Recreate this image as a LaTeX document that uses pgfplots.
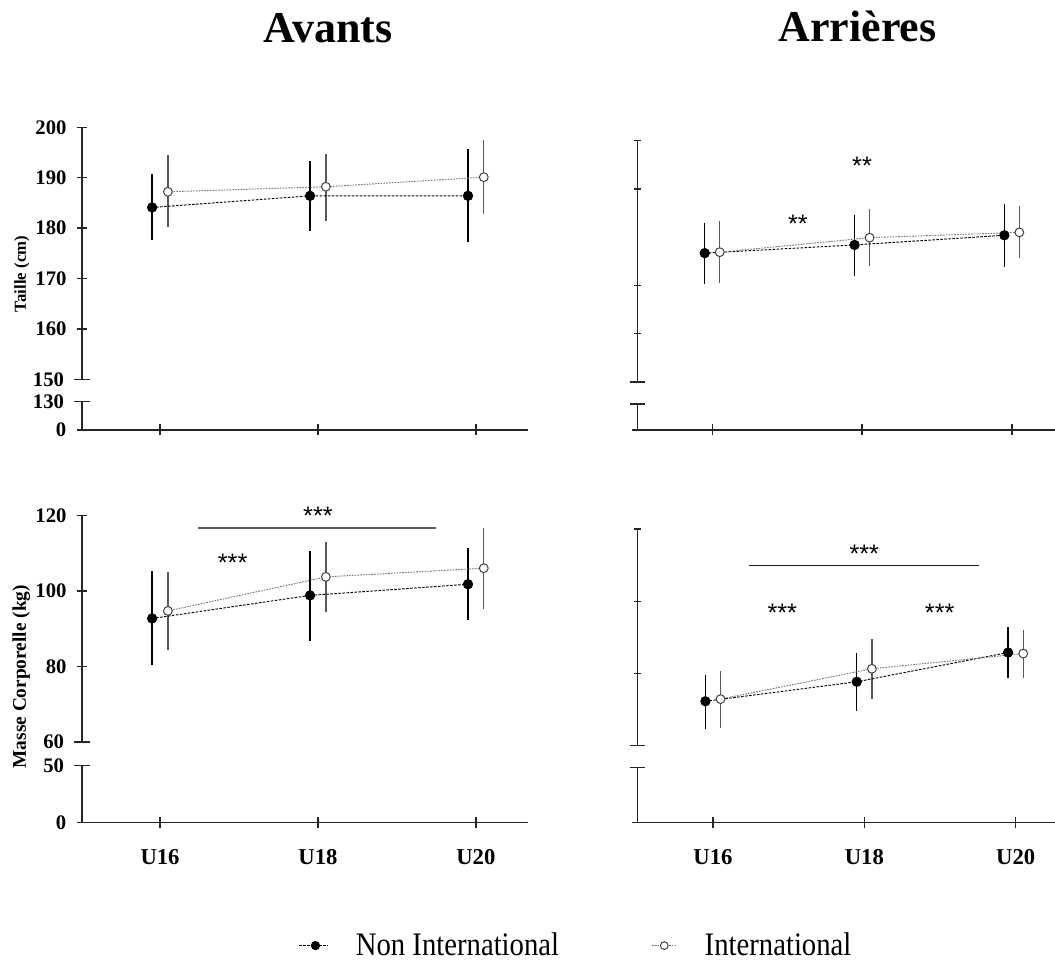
\documentclass[border=0pt]{standalone}
\usepackage{fontspec}
\setmainfont{Liberation Serif}
\newfontfamily\starfont{Liberation Sans}
\usepackage{graphicx}
\usepackage{pgfplots}
\usepackage{pgfplotstable}
\pgfplotsset{compat=1.18}

\pgfplotstableread{
x y ep em
-0.05 184.1 6.6 6.5
0.95 186.4 6.9 6.9
1.95 186.4 9.3 9.2
}\TLn
\pgfplotstableread{
x y ep em
0.05 187.2 7.3 7.0
1.05 188.2 6.6 6.7
2.05 190.1 7.4 7.4
}\TLi
\pgfplotstableread{
x y ep em
-0.05 176.7 6.2 6.4
0.95 178.4 6.3 6.4
1.95 180.4 6.5 6.5
}\TRn
\pgfplotstableread{
x y ep em
0.05 176.9 6.4 6.4
1.05 179.9 6.0 5.9
2.05 181.0 5.4 5.4
}\TRi
\pgfplotstableread{
x y ep em
-0.05 92.7 12.5 12.4
0.95 98.8 11.8 12.0
1.95 101.75 9.65 9.55
}\BLn
\pgfplotstableread{
x y ep em
0.05 94.7 10.2 10.3
1.05 103.7 9.2 9.4
2.05 106.0 10.6 10.7
}\BLi
\pgfplotstableread{
x y ep em
-0.05 72.3 7.4 7.7
0.95 77.7 8.1 8.0
1.95 85.8 7.1 7.0
}\BRn
\pgfplotstableread{
x y ep em
0.05 72.9 7.9 7.9
1.05 81.3 8.3 8.4
2.05 85.5 6.6 6.7
}\BRi

\pgfplotsset{
  noarrows/.style={axis line style={-, line width=1pt, draw=black!85}, inner axis line style={-}, outer axis line style={-},
    x axis line style={-}, y axis line style={-}},
  base/.style={scale only axis, clip=false, anchor=south west,
    tick style={line width=1pt, draw=black!85},
    tick align=outside,
    /pgf/number format/assume math mode=true,
    yticklabel style={font=\fontsize{15.5}{15.5}\selectfont\bfseries, inner sep=0pt, xshift=-7.5pt},
    xticklabel style={font=\fontsize{17}{17}\selectfont\bfseries, inner sep=0pt, yshift=-16pt},
    extra y tick style={tick align=center, major tick length=11.6pt},
  },
  upper/.style={base, axis x line=none, axis y line=left, noarrows},
  lower/.style={base, axis x line=bottom, axis y line=left, noarrows, xtick={0,1,2}, ymin=0, major tick length=8.25pt},
  errN/.style={draw=none, mark=none, forget plot, error bars/.cd, y dir=both, y explicit, error mark=none, error bar style={draw=black, solid, line width=1pt}},
  errI/.style={draw=none, mark=none, forget plot, error bars/.cd, y dir=both, y explicit, error mark=none, error bar style={draw=black!65, solid, line width=1pt}},
  lineN/.style={black, line width=0.7pt, dash pattern=on 1.9pt off 1.1pt, mark=*, mark size=3.5pt, mark options={solid, fill=black, draw=black}},
  lineI/.style={black!55, line width=0.7pt, dash pattern=on 1.2pt off 0.9pt, mark=*, mark size=3.3pt, mark options={solid, fill=white, draw=black!75, line width=0.75pt}},
  legN/.style={legend image code/.code={\draw[mark repeat=2,mark phase=2,##1, mark size=3.1pt] plot coordinates {(0pt,0pt) (12pt,0pt) (21.75pt,0pt)};}},
  legI/.style={legend image code/.code={\draw[mark repeat=2,mark phase=2,##1, mark size=2.9pt] plot coordinates {(0pt,0pt) (9pt,0pt) (18.75pt,0pt)};}},
}
\newcommand{\stars}[1]{\starfont\fontsize{19}{19}\selectfont #1}

\begin{document}
\begin{tikzpicture}
\useasboundingbox (0,0) rectangle (791.25pt,722.25pt);

% ---------- Top left (Avants, Taille)
\begin{axis}[upper, at={(61.5pt,437.775pt)}, width=334.5pt, height=189pt,
  xmin=-0.494, xmax=2.33, ymin=150, ymax=200, ytick={160,170,180,190,200}, extra y ticks={150}, major tick length=7.9pt]
\addplot[errN] table[x=x,y=y,y error plus=ep,y error minus=em]{\TLn};
\addplot[errI] table[x=x,y=y,y error plus=ep,y error minus=em]{\TLi};
\addplot[lineN] table[x=x,y=y]{\TLn};
\addplot[lineI] table[x=x,y=y]{\TLi};
\end{axis}
\begin{axis}[lower, at={(61.5pt,399.75pt)}, width=334.5pt, height=21.225pt,
  xmin=-0.494, xmax=2.33, ymax=130, ytick={0}, extra y ticks={130}, xticklabels={}]
\end{axis}

% ---------- Top right (Arrieres, Taille)
\begin{axis}[upper, at={(477.975pt,435.75pt)}, width=313.275pt, height=180.975pt,
  xmin=-0.5, xmax=2.288, ymin=150, ymax=200, ytick={160,170,190,200}, extra y ticks={150},
  yticklabels={}, extra y tick labels={}, major tick length=5.5pt]
\addplot[errN] table[x=x,y=y,y error plus=ep,y error minus=em]{\TRn};
\addplot[errI] table[x=x,y=y,y error plus=ep,y error minus=em]{\TRi};
\addplot[lineN] table[x=x,y=y]{\TRn};
\addplot[lineI] table[x=x,y=y]{\TRi};
\node[anchor=north, inner sep=0pt] at (axis cs:1.0,196.7) {\stars{**}};
\node[anchor=north, inner sep=0pt] at (axis cs:0.572,184.6) {\stars{**}};
\end{axis}
\begin{axis}[lower, at={(477.975pt,399.75pt)}, width=313.275pt, height=19.5pt,
  xmin=-0.5, xmax=2.288, ymax=130, ytick={0}, extra y ticks={130},
  xticklabels={}, yticklabels={}, extra y tick labels={}]
\end{axis}

% ---------- Bottom left (Avants, Masse)
\begin{axis}[upper, at={(61.5pt,165.75pt)}, width=334.5pt, height=170.025pt,
  xmin=-0.494, xmax=2.33, ymin=60, ymax=120, ytick={80,100,120}, extra y ticks={60}, major tick length=7.9pt,
  legend columns=2,
  legend style={at={(0.4865,-0.898)}, anchor=west, draw=none, fill=none, inner sep=0pt, outer sep=0pt,
    nodes={inner sep=0pt}, font=\fontsize{24.6}{24.6}\selectfont,
    /tikz/every odd column/.append style={column sep=20.25pt},
    /tikz/every even column/.append style={column sep=69.5pt}}]
\addplot[errN] table[x=x,y=y,y error plus=ep,y error minus=em]{\BLn};
\addplot[errI] table[x=x,y=y,y error plus=ep,y error minus=em]{\BLi};
\addplot[lineN, legN] table[x=x,y=y]{\BLn};
\addlegendentry{\scalebox{0.875}[1]{Non International}}
\addplot[lineI, legI] table[x=x,y=y]{\BLi};
\addlegendentry{\scalebox{0.875}[1]{International}}
\draw[line width=1pt, black!65] (axis cs:0.24,116.6) -- (axis cs:1.75,116.6);
\node[anchor=north, inner sep=0pt] at (axis cs:1.0,122.2) {\stars{***}};
\node[anchor=north, inner sep=0pt] at (axis cs:0.46,109.9) {\stars{***}};
\end{axis}
\begin{axis}[lower, at={(61.5pt,105.525pt)}, width=334.5pt, height=42.45pt,
  xmin=-0.494, xmax=2.33, ymax=50, ytick={0}, extra y ticks={50}, xticklabels={U16,U18,U20}]
\end{axis}

% ---------- Bottom right (Arrieres, Masse)
\begin{axis}[upper, at={(477.975pt,162.975pt)}, width=313.275pt, height=162.525pt,
  xmin=-0.5, xmax=2.26, ymin=60, ymax=120, ytick={80,100,120}, extra y ticks={60},
  yticklabels={}, extra y tick labels={}, major tick length=5.5pt]
\addplot[errN] table[x=x,y=y,y error plus=ep,y error minus=em]{\BRn};
\addplot[errI] table[x=x,y=y,y error plus=ep,y error minus=em]{\BRi};
\addplot[lineN] table[x=x,y=y]{\BRn};
\addplot[lineI] table[x=x,y=y]{\BRi};
\draw[line width=1pt, black!90] (axis cs:0.24,109.95) -- (axis cs:1.76,109.95);
\node[anchor=north, inner sep=0pt] at (axis cs:1.0,115.6) {\stars{***}};
\node[anchor=north, inner sep=0pt] at (axis cs:0.458,99.4) {\stars{***}};
\node[anchor=north, inner sep=0pt] at (axis cs:1.498,99.4) {\stars{***}};
\end{axis}
\begin{axis}[lower, at={(477.975pt,105.525pt)}, width=313.275pt, height=40.95pt,
  xmin=-0.5, xmax=2.26, ymax=50, ytick={0}, extra y ticks={50},
  xticklabels={U16,U18,U20}, yticklabels={}, extra y tick labels={}]
\end{axis}

% ---------- Titles and axis labels
\node[anchor=base, font=\fontsize{33}{33}\selectfont\bfseries] at (246.2pt,690.5pt) {Avants};
\node[anchor=base, font=\fontsize{33}{33}\selectfont\bfseries] at (643.1pt,691pt) {Arrières};
\node[rotate=90, font=\fontsize{12.6}{12.6}\selectfont\bfseries] at (16.3pt,516.75pt) {Taille (cm)};
\node[rotate=90, font=\fontsize{14.5}{14.5}\selectfont\bfseries] at (15.9pt,214.7pt) {Masse Corporelle (kg)};
\end{tikzpicture}
\end{document}
